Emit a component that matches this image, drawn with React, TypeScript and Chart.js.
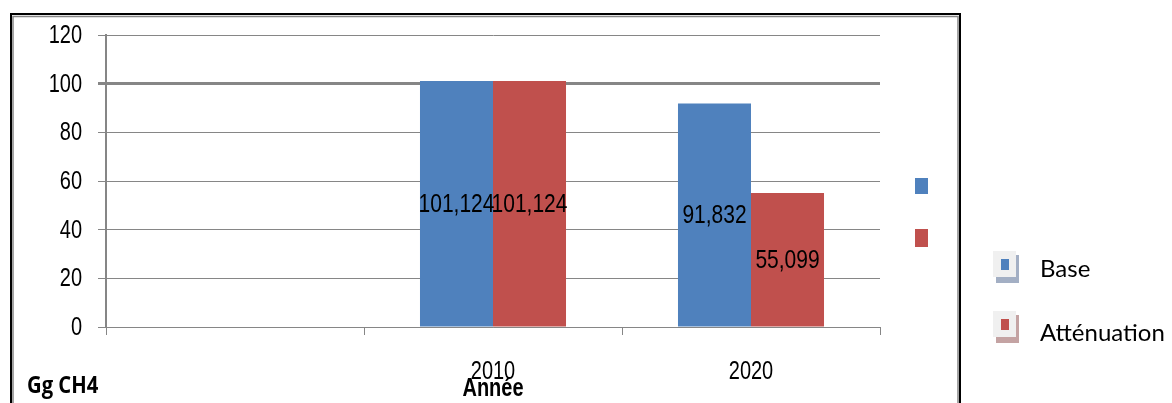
import React, { useEffect, useRef } from "react";
import { Chart, registerables } from "chart.js";

Chart.register(...registerables);

const categories = ["", "2010", "2020"];
const baseValues = [null, 101.124, 91.832];
const attenuationValues = [null, 101.124, 55.099];
const seriesNames = ["Base", "Atténuation"];
const yTicks = [0, 20, 40, 60, 80, 100, 120];

const BLUE = "#4F81BD";
const RED = "#C0504D";
const GRID = "#868686";
const SANS = "'Liberation Sans', Arial, sans-serif";

const fmt = (v: number) => v.toFixed(3).replace(".", ",");

function narrowText(ctx: any, text: string, x: number, y: number, font: string, sx: number, align: "left" | "center" | "right") {
  ctx.save();
  ctx.font = font;
  ctx.textBaseline = "middle";
  ctx.textAlign = align;
  ctx.translate(x, y);
  ctx.scale(sx, 1);
  ctx.fillText(text, 0, 0);
  ctx.restore();
}

const decorPlugin = {
  id: "decor",
  afterDatasetsDraw(chart: any) {
    const ctx = chart.ctx;
    ctx.save();
    ctx.fillStyle = "#000";
    chart.data.datasets.forEach((ds: any, di: number) => {
      const meta = chart.getDatasetMeta(di);
      meta.data.forEach((el: any, i: number) => {
        const v = ds.data[i];
        if (v == null) return;
        narrowText(ctx, fmt(v), el.x, (el.y + el.base) / 2 + 1, `25px ${SANS}`, 0.84, "center");
      });
    });
    ctx.restore();
  },
  afterDraw(chart: any) {
    const ctx = chart.ctx;
    ctx.save();
    ctx.fillStyle = "#000";
    // y tick labels
    const ys = chart.scales.y;
    yTicks.forEach((v) => {
      narrowText(ctx, String(v), 82, ys.getPixelForValue(v) + 1, `25px ${SANS}`, 0.8, "right");
    });
    // x tick labels
    const xs = chart.scales.x;
    categories.forEach((c, i) => {
      if (!c) return;
      narrowText(ctx, c, xs.getPixelForTick(i), 372, `25px ${SANS}`, 0.8, "center");
    });

    // outer frame
    ctx.strokeStyle = "#000";
    ctx.lineWidth = 2;
    ctx.strokeRect(11, 14, 949, 600);
    ctx.strokeStyle = GRID;
    ctx.lineWidth = 1.5;
    ctx.strokeRect(13, 16.5, 945, 600);

    // small legend squares without text
    ctx.fillStyle = BLUE;
    ctx.fillRect(915, 178, 13, 16);
    ctx.fillStyle = RED;
    ctx.fillRect(915, 229, 13, 18);

    // second legend
    const items = [
      { name: seriesNames[0], color: BLUE, shadow: "#a3afc4", y: 251, ty: 269 },
      { name: seriesNames[1], color: RED, shadow: "#c4a3a3", y: 311, ty: 333 },
    ];
    items.forEach((it) => {
      ctx.fillStyle = it.shadow;
      ctx.fillRect(996, it.y + 4, 23, 28);
      ctx.fillStyle = "#f0f0f0";
      ctx.fillRect(993, it.y, 23, 26);
      ctx.fillStyle = it.color;
      ctx.fillRect(1001, it.y + 8, 8, 11);
      ctx.fillStyle = "#000";
      ctx.font = "24px Lato, 'Open Sans', sans-serif";
      ctx.textAlign = "left";
      ctx.textBaseline = "middle";
      ctx.fillText(it.name, 1040, it.ty);
    });

    // axis titles
    ctx.fillStyle = "#000";
    narrowText(ctx, "Gg CH4", 27, 386, "bold 23px 'Open Sans', Lato, sans-serif", 0.88, "left");
    narrowText(ctx, "Année", 493, 389, `bold 25px ${SANS}`, 0.8, "center");
    ctx.restore();
  },
};

export default function App() {
  const ref = useRef<HTMLCanvasElement | null>(null);
  useEffect(() => {
    document.body.style.margin = "0";
    const canvas = ref.current!;
    const chart = new Chart(canvas, {
      type: "bar",
      data: {
        labels: categories,
        datasets: [
          { label: seriesNames[0], data: baseValues as any, backgroundColor: BLUE, categoryPercentage: 0.566, barPercentage: 1 },
          { label: seriesNames[1], data: attenuationValues as any, backgroundColor: RED, categoryPercentage: 0.566, barPercentage: 1 },
        ],
      },
      options: {
        responsive: false,
        animation: false,
        layout: { padding: { top: 35, right: 292, left: 0, bottom: 0 } },
        plugins: { legend: { display: false }, tooltip: { enabled: false } },
        scales: {
          x: {
            offset: true,
            grid: { offset: true, drawOnChartArea: false, drawTicks: true, tickLength: 8, color: GRID, lineWidth: 1 },
            border: { display: true, color: GRID, width: 1 },
            ticks: { display: false },
            afterFit: (s: any) => { s.height = 76; },
          },
          y: {
            min: 0,
            max: 120,
            afterBuildTicks: (s: any) => { s.ticks = yTicks.map((v) => ({ value: v })); },
            grid: {
              color: GRID,
              lineWidth: (c: any) => (c.tick && c.tick.value === 100 ? 3 : 1),
              tickLength: 8,
              drawTicks: true,
            },
            border: { display: true, color: GRID, width: 2 },
            ticks: { display: false },
            afterFit: (s: any) => { s.width = 106; },
          },
        },
      },
      plugins: [decorPlugin],
    });
    return () => chart.destroy();
  }, []);
  return (
    <div style={{ position: "fixed", left: 0, top: 0, width: 1172, height: 403, background: "#fff" }}>
      <canvas ref={ref} width={1172} height={403} style={{ display: "block", width: 1172, height: 403 }} />
    </div>
  );
}
